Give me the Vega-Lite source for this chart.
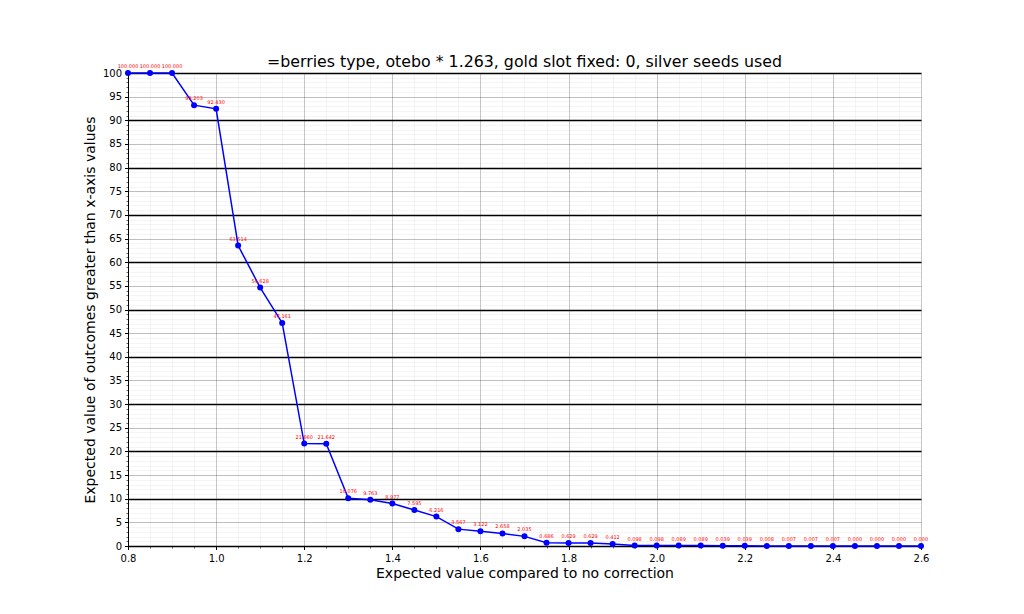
{
  "$schema": "https://vega.github.io/schema/vega-lite/v6.json",
  "width": 793,
  "height": 473,
  "autosize": {"type": "none"},
  "padding": {"left": 128, "top": 73, "right": 103, "bottom": 68},
  "background": "white",
  "config": {
    "font": "DejaVu Sans",
    "view": {"stroke": null},
    "axis": {"labelFont": "DejaVu Sans", "titleFont": "DejaVu Sans", "labelColor": "#000", "titleColor": "#000", "titleFontWeight": "normal", "domainColor": "#000", "tickColor": "#000", "labelFlush": false}
  },
  "title": {"text": "=berries type, otebo * 1.263, gold slot fixed: 0, silver seeds used", "fontSize": 15.8, "fontWeight": "normal", "font": "DejaVu Sans", "color": "#000", "offset": 5, "dy": 12},
  "data": {"values": [
    {"x": 0.80, "y": 100.000}, {"x": 0.85, "y": 100.000}, {"x": 0.90, "y": 100.000},
    {"x": 0.95, "y": 93.203}, {"x": 1.00, "y": 92.430}, {"x": 1.05, "y": 63.514},
    {"x": 1.10, "y": 54.628}, {"x": 1.15, "y": 47.161}, {"x": 1.20, "y": 21.660},
    {"x": 1.25, "y": 21.642}, {"x": 1.30, "y": 10.076}, {"x": 1.35, "y": 9.763},
    {"x": 1.40, "y": 8.977}, {"x": 1.45, "y": 7.595}, {"x": 1.50, "y": 6.216},
    {"x": 1.55, "y": 3.567}, {"x": 1.60, "y": 3.122}, {"x": 1.65, "y": 2.658},
    {"x": 1.70, "y": 2.035}, {"x": 1.75, "y": 0.686}, {"x": 1.80, "y": 0.629},
    {"x": 1.85, "y": 0.629}, {"x": 1.90, "y": 0.412}, {"x": 1.95, "y": 0.098},
    {"x": 2.00, "y": 0.098}, {"x": 2.05, "y": 0.089}, {"x": 2.10, "y": 0.089},
    {"x": 2.15, "y": 0.039}, {"x": 2.20, "y": 0.039}, {"x": 2.25, "y": 0.008},
    {"x": 2.30, "y": 0.007}, {"x": 2.35, "y": 0.007}, {"x": 2.40, "y": 0.007},
    {"x": 2.45, "y": 0.000}, {"x": 2.50, "y": 0.000}, {"x": 2.55, "y": 0.000},
    {"x": 2.60, "y": 0.000}
  ]},
  "resolve": {"axis": {"x": "independent", "y": "independent"}},
  "layer": [
    {
      "mark": {"type": "line", "color": "#0000ff", "strokeWidth": 1.5},
      "encoding": {
        "x": {"field": "x", "type": "quantitative", "scale": {"domain": [0.8, 2.6], "nice": false, "zero": false},
          "axis": {"orient": "bottom", "values": [0.8,0.85,0.9,0.95,1.0,1.05,1.1,1.15,1.2,1.25,1.3,1.35,1.4,1.45,1.5,1.55,1.6,1.65,1.7,1.75,1.8,1.85,1.9,1.95,2.0,2.05,2.1,2.15,2.2,2.25,2.3,2.35,2.4,2.45,2.5,2.55,2.6],
            "labels": false, "title": null, "domain": false, "ticks": true, "tickSize": 2, "tickWidth": 0.6, "grid": true, "gridColor": "#000000", "gridOpacity": 0.06, "gridWidth": 0.8}},
        "y": {"field": "y", "type": "quantitative", "scale": {"domain": [0, 100], "nice": false},
          "axis": {"orient": "left", "values": [0,1,2,3,4,5,6,7,8,9,10,11,12,13,14,15,16,17,18,19,20,21,22,23,24,25,26,27,28,29,30,31,32,33,34,35,36,37,38,39,40,41,42,43,44,45,46,47,48,49,50,51,52,53,54,55,56,57,58,59,60,61,62,63,64,65,66,67,68,69,70,71,72,73,74,75,76,77,78,79,80,81,82,83,84,85,86,87,88,89,90,91,92,93,94,95,96,97,98,99,100],
            "labels": false, "title": null, "domain": false, "ticks": true, "tickSize": 2, "tickWidth": 0.6, "grid": true, "gridColor": "#000000", "gridOpacity": 0.05, "gridWidth": 0.8}}
      }
    },
    {
      "mark": {"type": "point", "filled": true, "color": "#0000ff", "size": 36, "opacity": 1},
      "encoding": {
        "x": {"field": "x", "type": "quantitative",
          "axis": {"orient": "bottom", "values": [0.8,1.0,1.2,1.4,1.6,1.8,2.0,2.2,2.4,2.6], "format": ".1f",
            "labelFontSize": 10, "labelPadding": 4, "tickSize": 3.5, "title": "Expected value compared to no correction", "titleFontSize": 14, "titlePadding": 3,
            "domain": true, "domainWidth": 1, "grid": true, "gridColor": "#000000", "gridOpacity": 0.18, "gridWidth": 1}},
        "y": {"field": "y", "type": "quantitative",
          "axis": {"orient": "left", "values": [0,5,10,15,20,25,30,35,40,45,50,55,60,65,70,75,80,85,90,95,100], "format": "d",
            "labelFontSize": 10, "labelPadding": 3, "tickSize": 3.5, "title": "Expected value of outcomes greater than x-axis values", "titleFontSize": 14, "titlePadding": 5,
            "domain": true, "domainWidth": 1, "grid": true, "gridColor": "#000000", "gridOpacity": 0.22, "gridWidth": 1}}
      }
    },
    {
      "mark": {"type": "text", "color": "#ff0000", "fontSize": 5, "dy": -7, "align": "center", "baseline": "middle"},
      "encoding": {
        "x": {"field": "x", "type": "quantitative",
          "axis": {"orient": "bottom", "values": [0.8], "labels": false, "ticks": false, "domain": false, "title": null, "grid": false}},
        "y": {"field": "y", "type": "quantitative",
          "axis": {"orient": "left", "values": [0,10,20,30,40,50,60,70,80,90,100], "labels": false, "ticks": false, "domain": false, "title": null, "grid": true, "gridColor": "#000000", "gridWidth": 1.3}},
        "text": {"field": "y", "type": "quantitative", "format": ".3f"}
      }
    }
  ]
}
